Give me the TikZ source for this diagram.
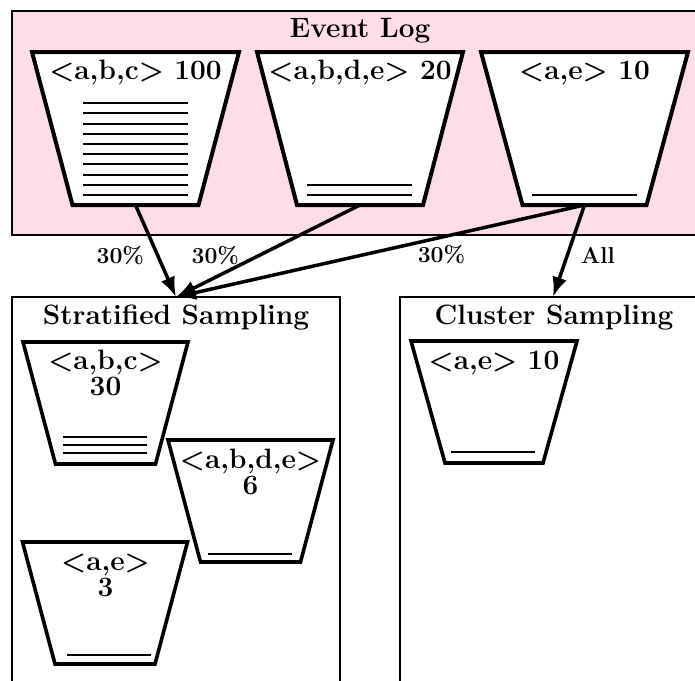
\documentclass[tikz,border=0pt]{standalone}
\usepackage{fontspec}
\usetikzlibrary{arrows.meta}
\definecolor{logpink}{RGB}{255,221,230}

\tikzset{
  panel/.style={draw, line width=1.3pt, inner sep=0pt, outer sep=0pt},
  tubframe/.style={draw=none, inner sep=0pt, outer sep=0pt, rectangle},
  tubline/.style={draw, fill=white, line width=4pt, line join=miter},
  tubtext/.style={inner sep=0pt, align=center, font=\fontsize{28}{26}\selectfont\bfseries},
  title/.style={inner sep=0pt, font=\fontsize{28}{26}\selectfont\bfseries},
  trace/.style={line width=2pt},
  flow/.style={line width=3.5pt, -{Latex[length=20pt,width=15pt]}},
  lab/.style={inner sep=0pt, font=\fontsize{23}{24}\selectfont\bfseries},
}

% a tub: name, centre x, top y, top width, bottom width, height
\newcommand{\tub}[7][]{%
  \node[tubframe, minimum width=#4pt, minimum height=#7pt, anchor=north] (#2) at (#3) {};
  \draw[tubline,#1] (#2.north west) -- (#2.north east)
    -- ([xshift={-(#4pt-#5pt)/2}]#2.south east)
    -- ([xshift={(#4pt-#5pt)/2}]#2.south west) -- cycle;}
% horizontal traces: centre x, half width, lowest y, spacing, count
\newcommand{\traces}[5]{%
  \foreach \k in {1,...,#5}{\draw[trace] ({#1-#2},{#3-(\k-1)*#4}) -- ({#1+#2},{#3-(\k-1)*#4});}}

\begin{document}
\begin{tikzpicture}[x=1pt, y=-1pt]
\clip (0,0) rectangle (695,680);
\fill[white] (0,0) rectangle (695,680);

% panels
\node[panel, fill=logpink, minimum width=696pt, minimum height=224pt, anchor=north] (log) at (360,11) {};
\node[panel, minimum width=328pt, minimum height=430pt, anchor=north] (strat) at (176,297) {};
\node[panel, minimum width=306pt, minimum height=430pt, anchor=north] (clus) at (553,297) {};
\node[title, anchor=base] (logT) at (360,37) {Event Log};
\node[title, anchor=base] (stratT) at (176,324) {Stratified Sampling};
\node[title, anchor=base] (clusT) at (554,324) {Cluster Sampling};

% event log tubs
\tub{abc}{135.5,52}{207}{126}{}{153}
\tub{abde}{360,52}{206}{126}{}{153}
\tub{ae}{584.5,52}{207}{124}{}{153}
\node[tubtext, anchor=base] (abcT) at (135.5,79.5) {\textless a,b,c\textgreater{} 100};
\node[tubtext, anchor=base] (abdeT) at (360,79.5) {\textless a,b,d,e\textgreater{} 20};
\node[tubtext, anchor=base] (aeT) at (584.5,79.5) {\textless a,e\textgreater{} 10};
\traces{135}{52.5}{195}{10.2}{10}
\traces{359.5}{52.5}{195}{10.2}{2}
\traces{584.5}{52.5}{195}{10.2}{1}

% stratified sample tubs (base anchor sits on the last line)
\tub[line width=3.6pt]{sabc}{105.5,342}{165}{100}{}{122}
\tub[line width=3.6pt]{sabde}{250.5,440}{165}{100}{}{122}
\tub[line width=3.6pt]{sae}{105,542}{165}{100}{}{122}
\node[tubtext, anchor=base] (sabcT) at (105.5,395) {\textless a,b,c\textgreater\\30};
\node[tubtext, anchor=base] (sabdeT) at (250.5,494) {\textless a,b,d,e\textgreater\\6};
\node[tubtext, anchor=base] (saeT) at (105.5,596.5) {\textless a,e\textgreater\\3};
\traces{105.3}{42}{453.3}{8.3}{3}
\traces{250}{42}{554}{8.3}{1}
\traces{109}{42}{655}{8.3}{1}

% cluster sample tub
\tub[line width=3.6pt]{cae}{494,341}{166}{98}{}{122}
\node[tubtext, anchor=base] (caeT) at (494,369) {\textless a,e\textgreater{} 10};
\traces{493}{42}{452}{8.3}{1}

% sampling flows
\draw[flow] (abc.south) -- node[lab, left=12pt, pos=0.55] {30\%} (strat.north);
\draw[flow] (abde.south) -- node[lab, left=18pt, pos=0.55] {30\%} (strat.north);
\draw[flow] (ae.south) -- node[lab, below=6pt, pos=0.35] {30\%} (strat.north);
\draw[flow] (ae.south) -- node[lab, right=12pt, pos=0.55] {All} (clus.north);
\end{tikzpicture}
\end{document}
